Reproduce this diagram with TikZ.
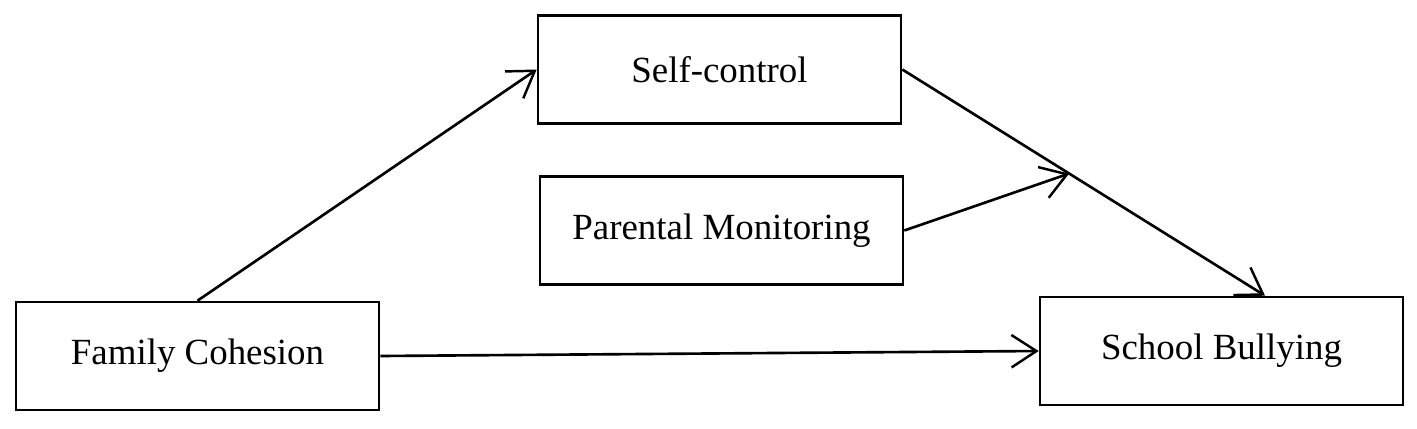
\documentclass[tikz,border=0pt]{standalone}
\usepackage{fontspec}
\setmainfont{Liberation Serif}
\usetikzlibrary{arrows.meta}
\begin{document}
\begin{tikzpicture}[font=\fontsize{21}{25}\selectfont,
  var/.style={draw, line width=1.5pt, minimum width=7.26cm, minimum height=2.16cm, align=center},
  path/.style={-{Straight Barb[length=5mm, width=6.5mm, line width=1.4pt]}, line width=1.5pt}]
  \useasboundingbox (0,0) rectangle (28.34,8.56);
  \node[var] (sc) at (14.39,7.17) {Self-control};
  \node[var] (pm) at (14.43,3.95) {Parental Monitoring};
  \node[var] (fc) at (3.95,1.44) {Family Cohesion};
  \node[var] (sb) at (24.43,1.54) {School Bullying};
  \coordinate (sbin) at ([xshift=0.87cm]sb.north);
  \draw[path] (fc.north) -- (sc.west);
  \draw[path] (sc.east) -- coordinate[pos=0.46] (mod) (sbin);
  \draw[path] (pm.east) -- (mod);
  \draw[path] (fc.east) -- (sb.west);
\end{tikzpicture}
\end{document}
